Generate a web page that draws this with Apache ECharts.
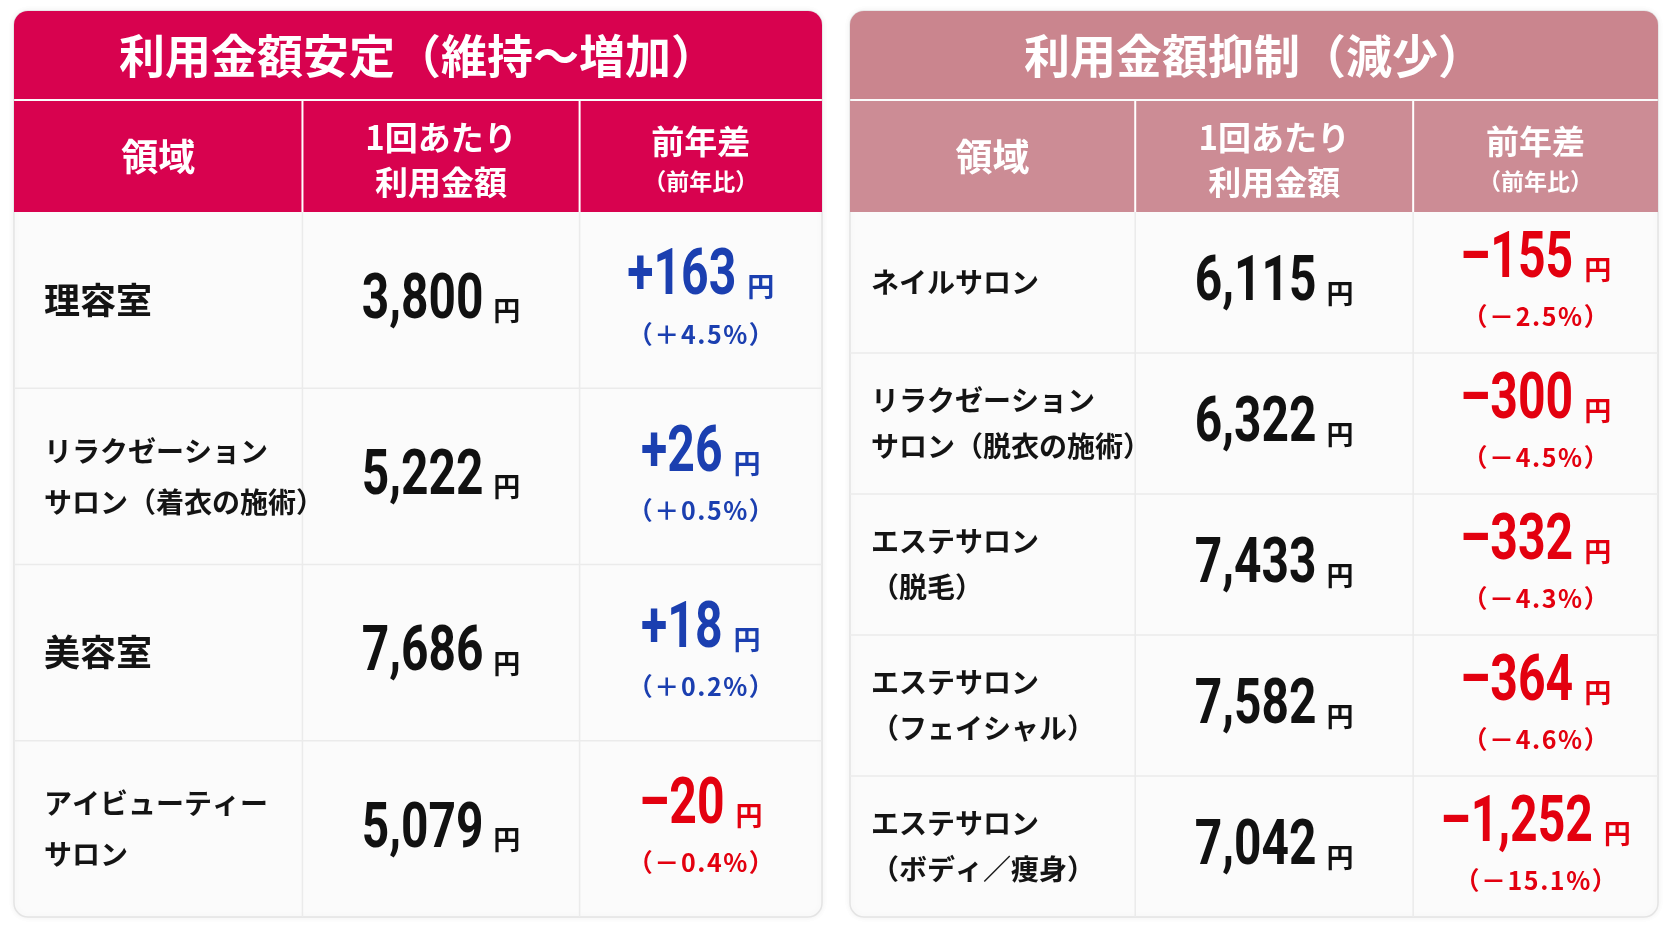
<!DOCTYPE html>
<html>
<head>
<meta charset="utf-8">
<script src="https://cdn.jsdelivr.net/npm/echarts@6/dist/echarts.min.js"></script>
<style>
html, body { margin: 0; padding: 0; background: #fff; }
#main { width: 1672px; height: 941px; }
</style>
</head>
<body>
<div id="main"></div>
<script>
// 表のデータ
var leftTitle = '利用金額安定（維持〜増加）';
var rightTitle = '利用金額抑制（減少）';
var headCols = ['領域', '1回あたり\n利用金額', '前年差', '（前年比）'];

var leftAreas = ['理容室', 'リラクゼーション\nサロン（着衣の施術）', '美容室', 'アイビューティー\nサロン'];
var leftPrice = [3800, 5222, 7686, 5079];
var leftDiff = [163, 26, 18, -20];
var leftRate = [4.5, 0.5, 0.2, -0.4];

var rightAreas = ['ネイルサロン', 'リラクゼーション\nサロン（脱衣の施術）', 'エステサロン\n（脱毛）', 'エステサロン\n（フェイシャル）', 'エステサロン\n（ボディ／痩身）'];
var rightPrice = [6115, 6322, 7433, 7582, 7042];
var rightDiff = [-155, -300, -332, -364, -1252];
var rightRate = [-2.5, -4.5, -4.3, -4.6, -15.1];

var NUM_FONT = "Roboto, 'Liberation Sans', sans-serif";
var JP_FONT = "'Noto Sans CJK JP', sans-serif";
var BLUE = '#1b3fb0';
var RED = '#e3000f';

// レイアウト
var TOP = 11, TITLE_B = 99, HEAD_T = 101, HEAD_B = 212, BOTTOM = 917, W = 808;

var panels = [
	{ x: 14, title: leftTitle, areas: leftAreas, price: leftPrice, diff: leftDiff, rate: leftRate,
		dark: '#d8024f', head: '#d8024f', cut: [0.357, 0.700], pad: 30, lh: 51 },
	{ x: 850, title: rightTitle, areas: rightAreas, price: rightPrice, diff: rightDiff, rate: rightRate,
		dark: '#ca858e', head: '#cc8c95', cut: [0.353, 0.697], pad: 21, lh: 46 }
];

var ctx = document.createElement('canvas').getContext('2d');
function textWidth(s, font) {
	ctx.font = font;
	return ctx.measureText(s).width;
}

function fmt(n) {
	return Math.abs(n).toLocaleString('en-US');
}

// 数字（縦長）＋「円」
function numberWithYen(s, cx, cy, color, size, sx, yenSize, gap) {
	var font = 'bold ' + size + 'px ' + NUM_FONT;
	var nw = textWidth(s, font) * sx;
	var total = nw + gap + yenSize;
	var start = cx - total / 2;
	return [{
		type: 'text', x: start, y: cy, scaleX: sx,
		style: { x: 0, y: 0, text: s, fill: color, font: font, align: 'left', verticalAlign: 'middle' }
	}, {
		type: 'text', x: start + nw + gap, y: cy + size * 0.14,
		style: { x: 0, y: 0, text: '円', fill: color, fontFamily: JP_FONT, fontWeight: 'bold', fontSize: yenSize,
			align: 'left', verticalAlign: 'middle' }
	}];
}

function buildGraphic(p) {
	var c1 = p.x + p.cut[0] * W / 2;
	var c2 = p.x + (p.cut[0] + p.cut[1]) * W / 2;
	var c3 = p.x + (p.cut[1] + 1) * W / 2;
	var els = [];
	els.push({
		type: 'rect', z: -10,
		shape: { x: p.x, y: TOP, width: W, height: BOTTOM - TOP, r: 14 },
		style: { fill: '#fbfbfb', stroke: '#e4e4e4', lineWidth: 1.5, shadowBlur: 6, shadowColor: 'rgba(0,0,0,0.06)' }
	});
	els.push({
		type: 'rect', z: -9,
		shape: { x: p.x, y: TOP, width: W, height: TITLE_B - TOP, r: [14, 14, 0, 0] },
		style: { fill: p.dark }
	});
	els.push({
		type: 'rect', z: -9,
		shape: { x: p.x, y: HEAD_T, width: W, height: HEAD_B - HEAD_T },
		style: { fill: p.head }
	});
	p.cut.forEach(function(f) {
		els.push({
			type: 'line', z: -8,
			shape: { x1: p.x + f * W, y1: HEAD_T, x2: p.x + f * W, y2: HEAD_B },
			style: { stroke: '#fff', lineWidth: 2 }
		});
	});
	els.push({
		type: 'text', z: -7, x: p.x + W / 2, y: 56,
		style: { text: p.title, fill: '#fff', fontFamily: JP_FONT, fontWeight: 'bold', fontSize: 46,
			align: 'center', verticalAlign: 'middle' }
	});
	els.push({
		type: 'text', z: -7, x: c1, y: 157,
		style: { text: headCols[0], fill: '#fff', fontFamily: JP_FONT, fontWeight: 'bold', fontSize: 37,
			align: 'center', verticalAlign: 'middle' }
	});
	els.push({
		type: 'text', z: -7, x: c2, y: 160,
		style: { text: headCols[1], fill: '#fff', fontFamily: JP_FONT, fontWeight: 'bold', fontSize: 33,
			lineHeight: 45, align: 'center', verticalAlign: 'middle' }
	});
	els.push({
		type: 'text', z: -7, x: c3, y: 160,
		style: {
			text: '{a|' + headCols[2] + '}\n{b|' + headCols[3] + '}',
			align: 'center', verticalAlign: 'middle',
			rich: {
				a: { fill: '#fff', fontFamily: JP_FONT, fontWeight: 'bold', fontSize: 33, lineHeight: 42 },
				b: { fill: '#fff', fontFamily: JP_FONT, fontWeight: 'bold', fontSize: 23, lineHeight: 38 }
			}
		}
	});
	return els;
}

function makeRender(p) {
	return function(params, api) {
		var k = api.value(1);
		var pt = api.coord([0, k]);
		var h = api.size([0, 1])[1];
		var cs = params.coordSys;
		var x0 = cs.x, w = cs.width, yc = pt[1], top = yc - h / 2;
		var c2 = x0 + (p.cut[0] + p.cut[1]) * w / 2;
		var c3 = x0 + (p.cut[1] + 1) * w / 2;
		var d = p.diff[k];
		var col = d > 0 ? BLUE : RED;
		var area = p.areas[k];
		var kids = [];
		if (k < p.areas.length - 1) {
			kids.push({ type: 'line', shape: { x1: x0, y1: top + h, x2: x0 + w, y2: top + h },
				style: { stroke: '#ebebeb', lineWidth: 1.5 } });
		}
		p.cut.forEach(function(f) {
			kids.push({ type: 'line', shape: { x1: x0 + f * w, y1: top, x2: x0 + f * w, y2: top + h },
				style: { stroke: '#ebebeb', lineWidth: 1.5 } });
		});
		kids.push({
			type: 'text',
			style: { x: x0 + p.pad, y: yc, text: area, fill: '#141414', fontFamily: JP_FONT, fontWeight: 'bold',
				fontSize: area.length <= 3 ? 36 : 28, lineHeight: p.lh, align: 'left', verticalAlign: 'middle' }
		});
		kids = kids.concat(numberWithYen(fmt(p.price[k]), c2, yc + 2, '#111', 63, 0.76, 27, 10));
		kids = kids.concat(numberWithYen((d > 0 ? '+' : '–') + fmt(d), c3, yc - 22, col, 65, 0.74, 27, 11));
		var r = p.rate[k];
		var rs = ('（' + (r > 0 ? '＋' : '－') + Math.abs(r).toFixed(1) + '%）').split('').join('\u200A');
		kids.push({
			type: 'text',
			style: { x: c3, y: yc + 34, text: rs,
				fill: col, fontFamily: JP_FONT, fontWeight: 'bold', fontSize: 25, align: 'center', verticalAlign: 'middle' }
		});
		return { type: 'group', children: kids };
	};
}

var myChart = echarts.init(document.getElementById('main'));
var grids = [], xAxes = [], yAxes = [], series = [], graphics = [];
panels.forEach(function(p, i) {
	grids.push({ left: p.x, top: HEAD_B, width: W, height: BOTTOM - HEAD_B });
	xAxes.push({ gridIndex: i, type: 'value', min: 0, max: 1, show: false });
	yAxes.push({ gridIndex: i, type: 'category', data: p.areas, inverse: true, show: false });
	series.push({
		type: 'custom',
		xAxisIndex: i,
		yAxisIndex: i,
		renderItem: makeRender(p),
		encode: { x: 0, y: 1 },
		silent: true,
		data: p.areas.map(function(a, k) { return [0.5, k]; })
	});
	graphics = graphics.concat(buildGraphic(p));
});

var option = {
	backgroundColor: '#fff',
	animation: false,
	grid: grids,
	xAxis: xAxes,
	yAxis: yAxes,
	graphic: { elements: graphics },
	series: series
};
myChart.setOption(option);
</script>
</body>
</html>
